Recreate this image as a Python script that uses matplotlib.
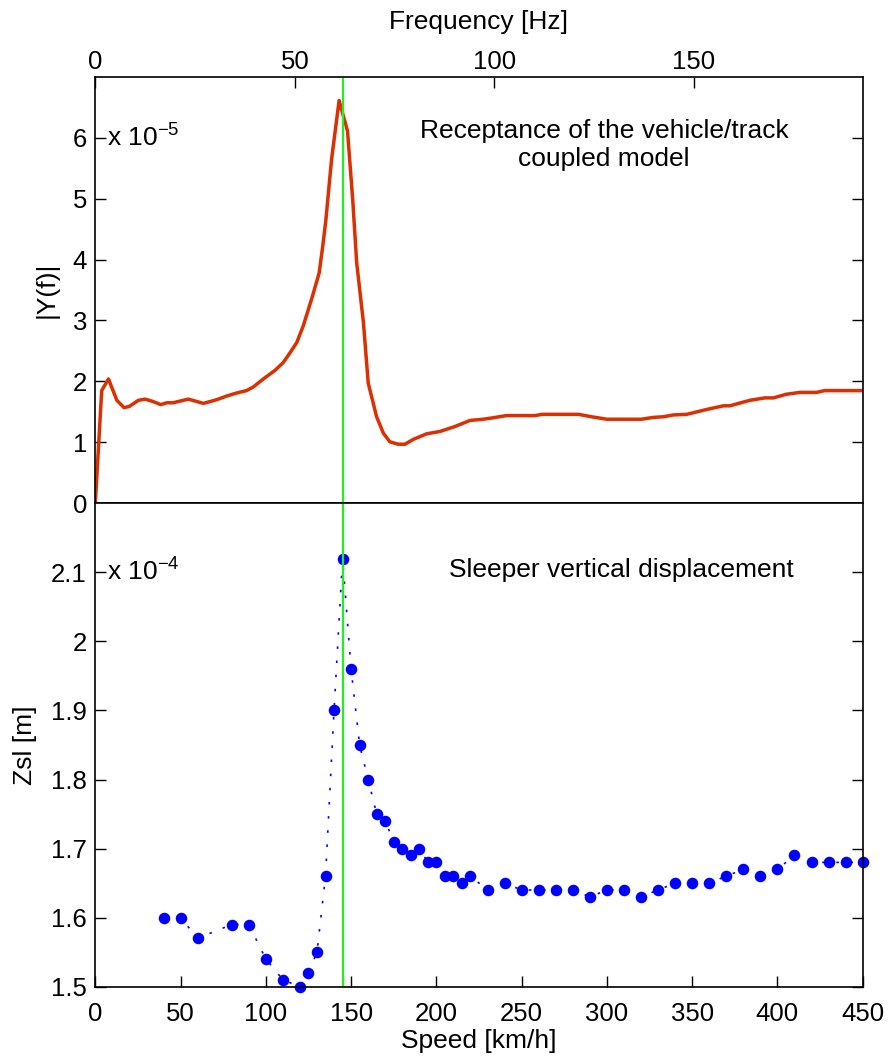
import matplotlib
matplotlib.use("Agg")
import matplotlib.pyplot as plt

plt.rcParams['font.family'] = ['Liberation Sans', 'DejaVu Sans']
plt.rcParams['mathtext.fontset'] = 'custom'
plt.rcParams['mathtext.rm'] = 'Liberation Sans'
plt.rcParams['mathtext.it'] = 'Liberation Sans'
plt.rcParams['font.size'] = 19
TICK_FS = 18.5

# Top panel: receptance |Y(f)| (x 1e-5) vs frequency [Hz]
freq = [0, 1.6, 3.3, 5.4, 7.2, 8.5, 10.8, 12.5, 14.5, 16.4, 17.9, 19.5, 23.3, 27.1, 30.4,
        32.9, 35.4, 37.9, 39.6, 42.1, 45.0, 47.1, 48.8, 50.5, 52.1, 54.2, 56.1, 57.0, 57.8,
        59.2, 61.1, 63.2, 64.5, 65.5, 67.2, 68.4, 70.5, 72.2, 73.8, 75.9, 77.6, 79.7, 83.0,
        86.4, 90.1, 93.9, 97.2, 99.3, 103.1, 110.2, 111.9, 121.1, 124.4, 128.2, 136.9,
        139.8, 142.3, 144.8, 148.2, 153.2, 157.4, 159.0, 164.0, 167.8, 169.9, 173.2, 176.6,
        180.7, 182.8, 192.3]
receptance = [0, 1.85, 2.04, 1.69, 1.57, 1.59, 1.69, 1.71, 1.67, 1.62, 1.65, 1.65, 1.71, 1.64,
              1.70, 1.76, 1.81, 1.85, 1.91, 2.04, 2.18, 2.31, 2.47, 2.64, 2.91, 3.35, 3.78,
              4.22, 4.66, 5.64, 6.61, 6.11, 4.99, 3.95, 2.96, 1.97, 1.42, 1.15, 1.01, 0.97,
              0.97, 1.05, 1.14, 1.18, 1.26, 1.36, 1.38, 1.40, 1.44, 1.44, 1.46, 1.46, 1.42,
              1.38, 1.38, 1.41, 1.42, 1.45, 1.46, 1.54, 1.60, 1.60, 1.69, 1.73, 1.73, 1.79,
              1.82, 1.82, 1.85, 1.85]

# Bottom panel: sleeper displacement (x 1e-4 m) vs speed [km/h]
speed = [40, 50, 60, 80, 90, 100, 110, 120, 125, 130, 135, 140, 145, 150, 155, 160, 165, 170,
         175, 180, 185, 190, 195, 200, 205, 210, 215, 220, 230, 240, 250, 260, 270, 280, 290,
         300, 310, 320, 330, 340, 350, 360, 370, 380, 390, 400, 410, 420, 430, 440, 450]
zsl = [1.60, 1.60, 1.57, 1.59, 1.59, 1.54, 1.51, 1.50, 1.52, 1.55, 1.66, 1.90, 2.12, 1.96,
       1.85, 1.80, 1.75, 1.74, 1.71, 1.70, 1.69, 1.70, 1.68, 1.68, 1.66, 1.66, 1.65, 1.66,
       1.64, 1.65, 1.64, 1.64, 1.64, 1.64, 1.63, 1.64, 1.64, 1.63, 1.64, 1.65, 1.65, 1.65,
       1.66, 1.67, 1.66, 1.67, 1.69, 1.68, 1.68, 1.68, 1.68]

critical_speed = 145          # km/h
sleeper_spacing = 0.65        # m  (frequency = speed / 3.6 / spacing)
freq_max = 450 / 3.6 / sleeper_spacing
critical_freq = critical_speed / 3.6 / sleeper_spacing

fig = plt.figure(figsize=(8.89, 10.59), dpi=100)
L, W = 0.1072, 0.8632
ax1 = fig.add_axes([L, 0.5247, W, 0.4029])
ax2 = fig.add_axes([L, 0.0683, W, 0.4564])

red = '#dc2f02'
green = '#22ee22'
blue = '#0000ff'

# ---- top
ax1.plot(freq, receptance, color=red, lw=2.5, solid_joinstyle='round')
ax1.axvline(critical_freq, color=green, lw=1.6)
ax1.set_xlim(0, freq_max)
ax1.set_ylim(0, 7)
ax1.set_yticks([0, 1, 2, 3, 4, 5, 6])
ax1.set_xticks([0, 50, 100, 150])
ax1.xaxis.set_label_position('top')
ax1.tick_params(axis='x', which='both', top=True, bottom=False, labeltop=True,
                labelbottom=False, direction='in', length=8, width=1, pad=2,
                labelsize=TICK_FS)
ax1.tick_params(axis='y', which='both', left=True, right=True, direction='in',
                length=8, width=1, pad=6, labelsize=TICK_FS)
ax1.set_xlabel('Frequency [Hz]', labelpad=15)
ax1.set_ylabel('|Y(f)|', labelpad=10)
ax1.text(0.015, 0.856, r'x 10$^{-5}$', transform=ax1.transAxes, ha='left', va='center')
ax1.text(0.663, 0.840, 'Receptance of the vehicle/track\ncoupled model',
         transform=ax1.transAxes, ha='center', va='center', linespacing=1.2)

# ---- bottom
ax2.plot(speed, zsl, linestyle=(0, (1.5, 7)), color=blue, lw=1.2, marker='o', ms=7.3,
         markerfacecolor=blue, markeredgecolor=blue, clip_on=False)
ax2.axvline(critical_speed, color=green, lw=1.6)
ax2.set_xlim(0, 450)
ax2.set_ylim(1.5, 2.2)
ax2.set_yticks([1.5, 1.6, 1.7, 1.8, 1.9, 2.0, 2.1])
ax2.set_yticklabels(['1.5', '1.6', '1.7', '1.8', '1.9', '2', '2.1'])
ax2.set_xticks(list(range(0, 451, 50)))
ax2.tick_params(axis='x', which='both', top=False, bottom=True, direction='in',
                length=8, width=1, pad=11, labelsize=TICK_FS)
ax2.tick_params(axis='y', which='both', left=True, right=True, direction='in',
                length=8, width=1, pad=6, labelsize=TICK_FS)
ax2.set_xlabel('Speed [km/h]', labelpad=2)
ax2.set_ylabel('Zsl [m]', labelpad=10)
ax2.text(0.015, 0.858, r'x 10$^{-4}$', transform=ax2.transAxes, ha='left', va='center')
ax2.text(0.686, 0.862, 'Sleeper vertical displacement', transform=ax2.transAxes,
         ha='center', va='center')

for ax in (ax1, ax2):
    for s in ax.spines.values():
        s.set_linewidth(1.2)

fig.savefig('out.png', dpi=100)
